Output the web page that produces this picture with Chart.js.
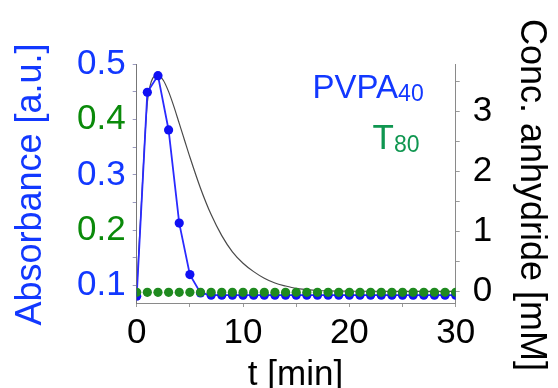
<!DOCTYPE html>
<html>
<head>
<meta charset="utf-8">
<script src="https://cdn.jsdelivr.net/npm/chart.js@4/dist/chart.umd.min.js"></script>
<style>
  html, body { margin: 0; padding: 0; background: #ffffff; }
  #wrap { width: 558px; height: 388px; }
</style>
</head>
<body>
<div id="wrap"><canvas id="chart" width="558" height="388"></canvas></div>
<script>
// Sampling times [min]
const minutes = [0, 1, 2, 3, 4, 5, 6, 7, 8, 9, 10, 11, 12, 13, 14, 15,
                 16, 17, 18, 19, 20, 21, 22, 23, 24, 25, 26, 27, 28, 29, 30];

// Absorbance [a.u.] – PVPA40
const pvpaAbsorbance = [0.081, 0.449, 0.479, 0.381, 0.213, 0.120, 0.087, 0.083,
                        0.083, 0.083, 0.083, 0.083, 0.083, 0.083, 0.083, 0.083,
                        0.083, 0.083, 0.083, 0.083, 0.083, 0.083, 0.083, 0.083,
                        0.083, 0.083, 0.083, 0.083, 0.083, 0.083, 0.083];

// Absorbance [a.u.] – T80
const t80Absorbance = [0.088, 0.088, 0.088, 0.088, 0.088, 0.088, 0.088, 0.088,
                       0.088, 0.088, 0.088, 0.088, 0.088, 0.088, 0.088, 0.088,
                       0.088, 0.088, 0.088, 0.088, 0.088, 0.088, 0.088, 0.088,
                       0.088, 0.088, 0.088, 0.088, 0.088, 0.088, 0.088];

// Anhydride concentration [mM]
const anhydrideTime = [0, 0.25, 0.5, 0.75, 1, 1.25, 1.5, 2, 2.5, 3, 3.5, 4, 4.5, 5,
                       6, 7, 8, 9, 10, 11, 12, 13, 14, 15, 16, 17, 18, 20, 25, 30];
const anhydrideConc = [0, 0.85, 1.65, 2.5, 3.15, 3.42, 3.55, 3.61, 3.52, 3.33, 3.08, 2.8, 2.52, 2.24,
                       1.72, 1.28, 0.93, 0.66, 0.47, 0.33, 0.22, 0.14, 0.09, 0.05, 0.03, 0.015, 0.008, 0.003, 0.0, 0.0];

// Axis ticks and labels
const timeTicks = [0, 10, 20, 30];
const timeTickLabels = ['0', '10', '20', '30'];
const absTicks = [0.1, 0.2, 0.3, 0.4, 0.5];
const absTickLabels = ['0.1', '0.2', '0.3', '0.4', '0.5'];
const concTicks = [0, 1, 2, 3];
const concTickLabels = ['0', '1', '2', '3'];

const FONT = '"Liberation Sans", Arial, Helvetica, sans-serif';
const BLUE = '#1238ff';
const GREEN_TXT = '#0a8a0a';
const BLUE_DOT = '#1010f4';
const GREEN_DOT = '#1f8a1f';
const LEGEND_GREEN = '#0f9650';

// major + half-step minor tick positions
function withMinor(major, step) {
  const out = [];
  for (let i = 0; i < major.length; i++) {
    out.push(major[i]);
    if (i < major.length - 1) out.push(+(major[i] + step).toFixed(4));
  }
  return out;
}
function labelFor(values, labels) {
  return function (v) {
    const i = values.findIndex(m => Math.abs(m - v) < 1e-6);
    return i >= 0 ? labels[i] : '';
  };
}

const xy = (xs, ys) => xs.map((x, i) => ({ x: x, y: ys[i] }));

// Axis titles and series labels
const annotations = {
  id: 'annotations',
  afterDraw(chart) {
    const ctx = chart.ctx;
    ctx.save();
    ctx.textBaseline = 'alphabetic';

    ctx.save();
    ctx.translate(41, 184.5);
    ctx.rotate(-Math.PI / 2);
    ctx.textAlign = 'center';
    ctx.font = '36px ' + FONT;
    ctx.fillStyle = BLUE;
    ctx.fillText('Absorbance [a.u.]', 0, 0);
    ctx.restore();

    ctx.save();
    ctx.translate(521, 195);
    ctx.rotate(Math.PI / 2);
    ctx.textAlign = 'center';
    ctx.font = '36px ' + FONT;
    ctx.fillStyle = '#000000';
    ctx.fillText('Conc. anhydride [mM]', 0, 0);
    ctx.restore();

    ctx.textAlign = 'center';
    ctx.font = '35px ' + FONT;
    ctx.fillStyle = '#000000';
    ctx.fillText('t [min]', 295.5, 385);

    ctx.textAlign = 'left';
    ctx.font = '33px ' + FONT;
    ctx.fillStyle = BLUE;
    ctx.fillText('PVPA', 312.5, 98.3);
    let w = ctx.measureText('PVPA').width;
    ctx.font = '23px ' + FONT;
    ctx.fillText('40', 312.5 + w, 101);

    ctx.font = '35px ' + FONT;
    ctx.fillStyle = LEGEND_GREEN;
    ctx.fillText('T', 372.5, 149);
    w = ctx.measureText('T').width;
    ctx.font = '23px ' + FONT;
    ctx.fillText('80', 372.5 + w, 151.5);

    ctx.restore();
  }
};

new Chart(document.getElementById('chart'), {
  type: 'line',
  data: {
    datasets: [
      {
        label: 'T80',
        data: xy(minutes, t80Absorbance),
        yAxisID: 'y',
        showLine: false,
        pointRadius: 4.6,
        pointBackgroundColor: GREEN_DOT,
        pointBorderColor: GREEN_DOT,
        pointBorderWidth: 0
      },
      {
        label: 'PVPA40',
        data: xy(minutes, pvpaAbsorbance),
        yAxisID: 'y',
        borderColor: '#2a2aff',
        borderWidth: 1.8,
        tension: 0,
        pointRadius: 4.6,
        pointBackgroundColor: BLUE_DOT,
        pointBorderColor: BLUE_DOT,
        pointBorderWidth: 0
      },
      {
        label: 'anhydride',
        data: xy(anhydrideTime, anhydrideConc),
        yAxisID: 'y2',
        borderColor: '#4a4a4a',
        borderWidth: 1.2,
        cubicInterpolationMode: 'monotone',
        pointRadius: 0
      }
    ]
  },
  options: {
    responsive: false,
    animation: false,
    events: [],
    layout: { padding: { top: 64, left: 0, right: 0, bottom: 0 } },
    plugins: { legend: { display: false }, tooltip: { enabled: false } },
    scales: {
      x: {
        type: 'linear',
        min: 0, max: 30,
        afterFit(s) { s.height = 85; },
        afterBuildTicks(s) { s.ticks = withMinor(timeTicks, 5).map(v => ({ value: v })); },
        border: { display: true, color: '#8a8a8a', width: 1 },
        grid: { drawOnChartArea: false, drawTicks: true, tickLength: 4, color: '#9a9a9a' },
        ticks: {
          autoSkip: false, maxRotation: 0, padding: 5,
          color: '#000000',
          font: { family: FONT, size: 35 },
          callback: labelFor(timeTicks, timeTickLabels)
        }
      },
      y: {
        type: 'linear',
        position: 'left',
        min: 0.0688, max: 0.5,
        afterFit(s) { s.width = 136.7; },
        afterBuildTicks(s) { s.ticks = withMinor(absTicks, 0.05).map(v => ({ value: v })); },
        border: { display: true, color: '#777777', width: 1 },
        grid: { drawOnChartArea: false, drawTicks: true, tickLength: 4, color: '#9a9ac0' },
        ticks: {
          autoSkip: false, padding: 7,
          font: { family: FONT, size: 35 },
          color(c) {
            const v = c.tick ? c.tick.value : 0;
            return (Math.abs(v - 0.4) < 1e-6 || Math.abs(v - 0.2) < 1e-6) ? GREEN_TXT : BLUE;
          },
          callback: labelFor(absTicks, absTickLabels)
        }
      },
      y2: {
        type: 'linear',
        position: 'right',
        min: -0.193, max: 3.79,
        afterFit(s) { s.width = 102.3; },
        afterBuildTicks(s) { s.ticks = withMinor(concTicks.concat([4]), 0.5).filter(v => v <= 3.5).map(v => ({ value: v })); },
        border: { display: true, color: '#8a8a8a', width: 1 },
        grid: { drawOnChartArea: false, drawTicks: true, tickLength: 4, color: '#9a9a9a' },
        ticks: {
          autoSkip: false, padding: 13,
          color: '#000000',
          font: { family: FONT, size: 35 },
          callback: labelFor(concTicks, concTickLabels)
        }
      }
    }
  },
  plugins: [annotations]
});
</script>
</body>
</html>
